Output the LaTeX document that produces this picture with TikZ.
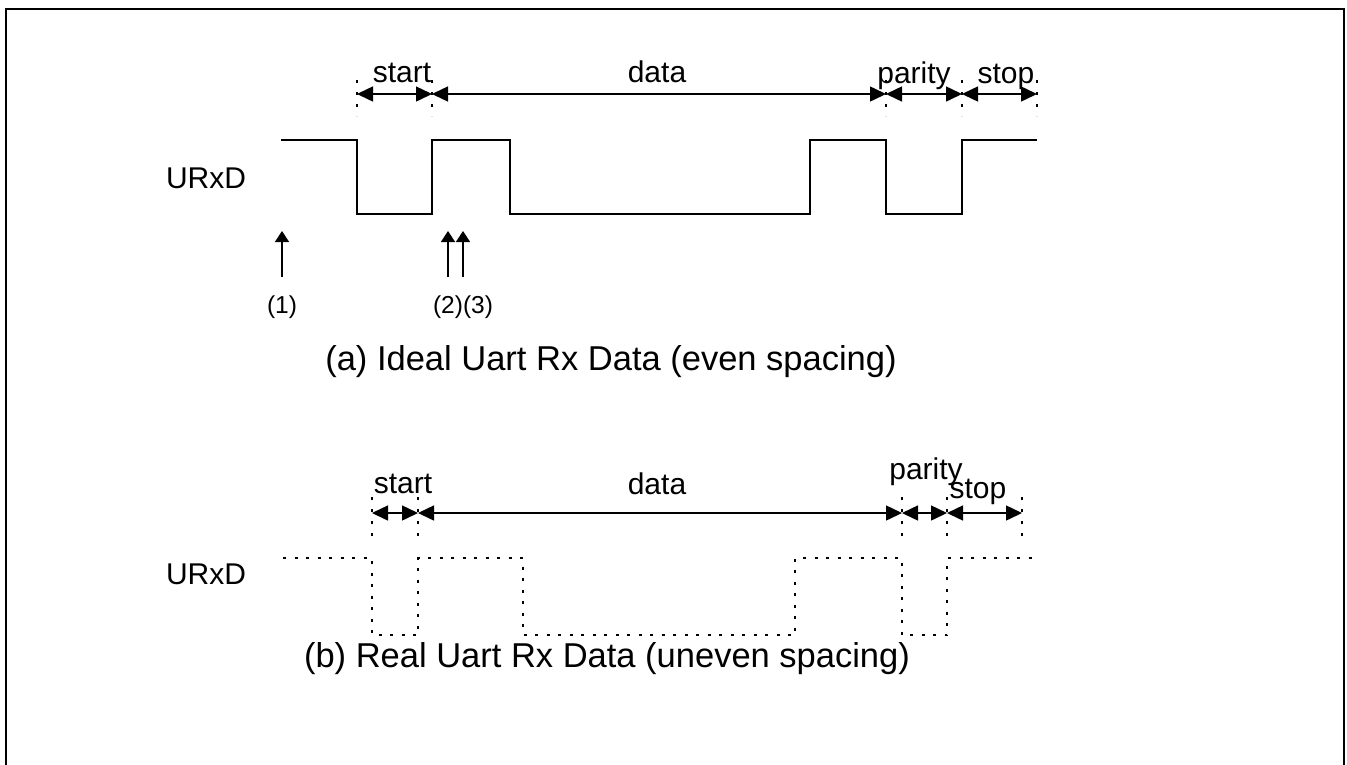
\documentclass[tikz,border=0pt]{standalone}
\usepackage{fontspec}
\setmainfont{Liberation Sans}
\usetikzlibrary{arrows.meta}
\begin{document}
\begin{tikzpicture}[x=1pt,y=-1pt,
  wave/.style={line width=1.9pt,line join=miter},
  dotwave/.style={line width=2pt,dash pattern=on 3pt off 8.5pt},
  marker/.style={line width=2pt,dash pattern=on 3pt off 9pt},
  span/.style={line width=1.5pt,{Triangle[length=16pt,width=15pt]}-{Triangle[length=16pt,width=15pt]}},
  uparrow/.style={line width=1.5pt,-{Triangle[length=11pt,width=14pt]}},
  lbl/.style={font=\fontsize{30}{32}\selectfont,inner sep=0pt,anchor=base},
  num/.style={font=\fontsize{24.5}{26}\selectfont,inner sep=0pt,anchor=base},
  captext/.style={font=\fontsize{34.5}{36}\selectfont,inner sep=0pt,anchor=base}]
\clip (0,0) rectangle (1347,764);
\fill[white] (0,0) rectangle (1347,764);
\draw[line width=2.4pt] (6,790) -- (6,9) -- (1344,9) -- (1344,790);

% ---------- (a) ideal ----------
\node[lbl] (u1) at (206,188) {URxD};
\draw[wave] (281,140) -- (357,140) -- (357,214) -- (432,214) -- (432,140) -- (510,140) -- (510,214)
  -- (810,214) -- (810,140) -- (886,140) -- (886,214) -- (962,214) -- (962,140) -- (1037,140);

\foreach \n/\x in {a1/357,a2/432,a3/886,a4/962,a5/1037}{
  \coordinate (\n) at (\x,94);
  \draw[marker] (\x,80) -- (\x,116);
}
\draw[span] (a1) -- (a2);
\draw[span] (a2) -- (a3);
\draw[span] (a3) -- (a4);
\draw[span] (a4) -- (a5);
\node[lbl] (ls1) at (402,82) {start};
\node[lbl] (ld1) at (657,82) {data};
\node[lbl] (lp1) at (914,83) {parity};
\node[lbl] (lt1) at (1006,83) {stop};

\node[num] (n1) at (282,313) {(1)};
\node[num] (n23) at (463,313) {(2)(3)};
\coordinate (p1) at (282,277);
\coordinate (q1) at (282,231);
\coordinate (p2) at (448,277);
\coordinate (q2) at (448,231);
\coordinate (p3) at (463,277);
\coordinate (q3) at (463,231);
\draw[uparrow] (p1) -- (q1);
\draw[uparrow] (p2) -- (q2);
\draw[uparrow] (p3) -- (q3);

\node[captext] (ca) at (611,370) {(a) Ideal Uart Rx Data (even spacing)};

% ---------- (b) real ----------
\node[lbl] (u2) at (206,584) {URxD};
\draw[dotwave] (283,558) -- (372,558) -- (372,635) -- (418,635) -- (418,558) -- (523,558) -- (523,635)
  -- (795,635) -- (795,558) -- (902,558) -- (902,635) -- (947,635) -- (947,558) -- (1037,558);

\foreach \n/\x in {b1/372,b2/418,b3/902,b4/947,b5/1022}{
  \coordinate (\n) at (\x,513);
  \draw[marker] (\x,497) -- (\x,536);
}
\draw[span] (b1) -- (b2);
\draw[span] (b2) -- (b3);
\draw[span] (b3) -- (b4);
\draw[span] (b4) -- (b5);
\node[lbl] (ls2) at (403,493) {start};
\node[lbl] (ld2) at (657,494) {data};
\node[lbl] (lp2) at (926,479) {parity};
\node[lbl] (lt2) at (978,498) {stop};

\node[captext] (cb) at (607,667) {(b) Real Uart Rx Data (uneven spacing)};
\end{tikzpicture}
\end{document}
